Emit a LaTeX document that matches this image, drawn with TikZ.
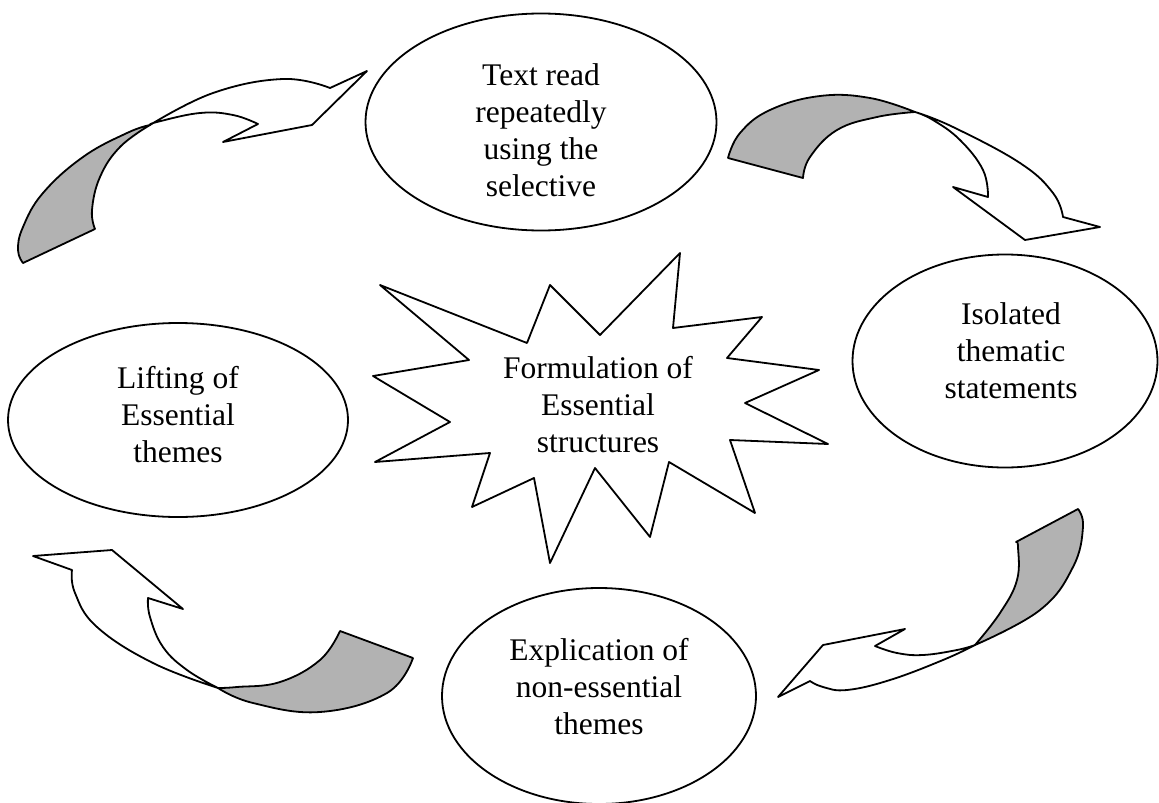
\documentclass[tikz,border=0pt]{standalone}
\usepackage{fontspec}
\setmainfont{Liberation Serif}
\usetikzlibrary{shapes.geometric}
\begin{document}
\begin{tikzpicture}[x=1pt,y=-1pt,line width=1.8pt,line join=round,
  bubble/.style={draw,ellipse,inner sep=0pt},
  lbl/.style={align=center,font=\fontsize{31.5}{37}\selectfont,inner sep=0pt},
  ribbon/.style={draw,fill=gray!60},
  blockarrow/.style={draw,fill=white},
  sm/.style={smooth,tension=0.7}]
\useasboundingbox (0,0) rectangle (1159,803);

% ellipses
\node[bubble,minimum width=351pt,minimum height=217pt] (e1) at (541,122) {};
\node[bubble,minimum width=305pt,minimum height=213pt] (e2) at (1005,361) {};
\node[bubble,minimum width=340pt,minimum height=194pt] (e3) at (178,420) {};
\node[bubble,minimum width=314pt,minimum height=216pt] (e4) at (599,696) {};

\node[lbl] (t1) at (541,130) {Text read\\repeatedly\\using the\\selective};
\node[lbl] (t2) at (1011,351) {Isolated\\thematic\\statements};
\node[lbl] (t3) at (178,415) {Lifting of\\Essential\\themes};
\node[lbl] (t4) at (599,687) {Explication of\\non-essential\\themes};

% star
\draw[fill=white] (380,285) -- (527,343) -- (550,285) -- (600,335) -- (680,253) -- (673,328)
  -- (762,317) -- (727,358) -- (819,370) -- (745,403) -- (828,444) -- (730,440)
  -- (755,513) -- (669,462) -- (650,537) -- (595,468) -- (550,563) -- (534,478)
  -- (472,507) -- (490,453) -- (375,462) -- (450,422) -- (373,376) -- (469,360) -- cycle;
\node[lbl] (ts) at (598,405) {Formulation of\\Essential\\structures};

% arrow 1 (top left)
\path[ribbon] (23,263) -- (95,229)
  -- plot[sm] coordinates {(95,229) (92,210) (100,177) (120,147) (150,125)}
  -- plot[sm] coordinates {(150,125) (127,133) (83,157) (43,193) (23,227) (18,250) (23,263)} -- cycle;
\path[blockarrow] plot[sm] coordinates {(150,125) (213,93) (283,79) (330,88)}
  -- (367,71) -- (312,125) -- (223,142) -- (258,124)
  -- plot[sm] coordinates {(258,124) (233,115) (200,113) (157,122) (150,125)} -- cycle;

% arrow 2 (top right)
\path[ribbon] (728,158) -- (803,178)
  -- plot[sm] coordinates {(803,178) (810,157) (837,130) (877,117) (915,112)}
  -- plot[sm] coordinates {(915,112) (870,98) (820,96) (770,110) (740,133) (728,158)} -- cycle;
\path[blockarrow] plot[sm] coordinates {(915,112) (953,127) (1020,163) (1053,193) (1063,217)}
  -- (1100,227) -- (1025,240) -- (953,187) -- (988,197)
  -- plot[sm] coordinates {(988,197) (983,170) (960,140) (933,120) (915,112)} -- cycle;

% arrow 3 (bottom right)
\path[ribbon] (1078,509)
  -- plot[sm] coordinates {(1078,509) (1083,527) (1073,567) (1040,610) (975,645)}
  -- plot[sm] coordinates {(975,645) (1000,613) (1017,580) (1018,547) (1016,542)} -- cycle;
\path[blockarrow] plot[sm] coordinates {(975,645) (943,660) (890,680) (847,690) (823,687) (810,681)}
  -- (778,697) -- (823,645) -- (905,629) -- (875,646)
  -- plot[sm] coordinates {(875,646) (897,653) (923,655) (957,650) (975,645)} -- cycle;

% arrow 4 (bottom left)
\path[ribbon] (340,631) -- (413,658)
  -- plot[sm] coordinates {(413,658) (387,693) (320,712) (253,703) (218,688)}
  -- plot[sm] coordinates {(218,688) (237,687) (280,682) (320,660) (340,631)} -- cycle;
\path[blockarrow] plot[sm] coordinates {(218,688) (153,663) (97,627) (75,593) (72,570)}
  -- (33,556) -- (112,550) -- (183,609) -- (148,598)
  -- plot[sm] coordinates {(148,598) (150,617) (163,647) (187,670) (218,688)} -- cycle;
\end{tikzpicture}
\end{document}
